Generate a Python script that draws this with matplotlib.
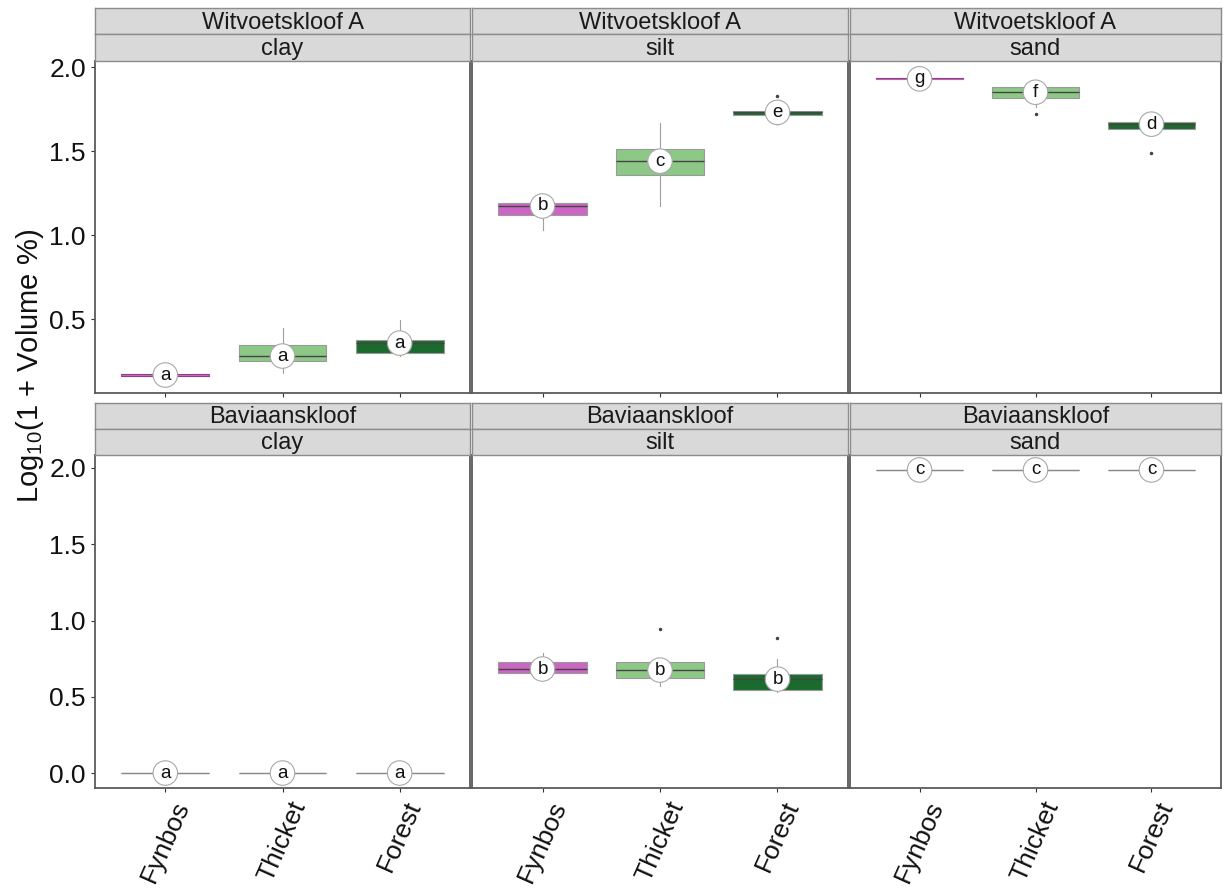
import matplotlib
matplotlib.use("Agg")
import matplotlib.pyplot as plt

plt.rcParams['font.family'] = ['Liberation Sans', 'DejaVu Sans']

sites = ["Witvoetskloof A", "Baviaanskloof"]
fractions = ["clay", "silt", "sand"]
vegetation = ["Fynbos", "Thicket", "Forest"]
veg_colors = ["#CC66C4", "#8DC887", "#1B6B2E"]
veg_edges = ["#8a3f86", "#8a9a88", "#7f8f80"]

# Box statistics per site -> fraction -> vegetation:
# (whisker low, q1, median, q3, whisker high, outliers)
witv_clay = [(0.162, 0.162, 0.167, 0.173, 0.173, []),
             (0.18, 0.25, 0.28, 0.345, 0.446, []),
             (0.28, 0.30, 0.357, 0.375, 0.494, [])]
witv_silt = [(1.03, 1.119, 1.173, 1.19, 1.20, []),
             (1.173, 1.357, 1.44, 1.512, 1.667, []),
             (1.70, 1.714, 1.73, 1.738, 1.75, [1.827, 1.665])]
witv_sand = [(1.927, 1.927, 1.93, 1.933, 1.933, []),
             (1.76, 1.815, 1.85, 1.88, 1.89, [1.72]),
             (1.62, 1.631, 1.66, 1.673, 1.69, [1.49])]
bav_clay = [(0.0, 0.0, 0.0, 0.0, 0.0, []),
            (0.0, 0.0, 0.0, 0.0, 0.0, []),
            (0.0, 0.0, 0.0, 0.0, 0.0, [])]
bav_silt = [(0.64, 0.656, 0.682, 0.728, 0.79, []),
            (0.57, 0.623, 0.675, 0.728, 0.74, [0.944]),
            (0.53, 0.544, 0.616, 0.649, 0.748, [0.885])]
bav_sand = [(1.987, 1.987, 1.987, 1.987, 1.987, []),
            (1.987, 1.987, 1.987, 1.987, 1.987, []),
            (1.987, 1.987, 1.987, 1.987, 1.987, [])]

letters = {
    (0, 0): ["a", "a", "a"], (0, 1): ["b", "c", "e"], (0, 2): ["g", "f", "d"],
    (1, 0): ["a", "a", "a"], (1, 1): ["b", "b", "b"], (1, 2): ["c", "c", "c"],
}
data = {(0, 0): witv_clay, (0, 1): witv_silt, (0, 2): witv_sand,
        (1, 0): bav_clay, (1, 1): bav_silt, (1, 2): bav_sand}

row_ylim = [(0.06, 2.036), (-0.098, 2.085)]
row_ticks = [[0.5, 1.0, 1.5, 2.0], [0.0, 0.5, 1.0, 1.5, 2.0]]

W, H = 1223, 888
fig = plt.figure(figsize=(W / 100, H / 100), dpi=100)

col_x = [(95, 470), (472, 848), (850, 1221)]
row_panel = [(61, 393), (455, 788)]
row_strip = [(8, 61), (403, 455)]

def frac_rect(x0, x1, y0, y1):
    return [x0 / W, 1 - y1 / H, (x1 - x0) / W, (y1 - y0) / H]

border = "#5a5a5a"
for r in range(2):
    for c in range(3):
        x0, x1 = col_x[c]
        y0, y1 = row_panel[r]
        ax = fig.add_axes(frac_rect(x0, x1, y0, y1))
        stats = []
        for (lo, q1, med, q3, hi, fl) in data[(r, c)]:
            stats.append(dict(whislo=lo, q1=q1, med=med, q3=q3, whishi=hi, fliers=fl))
        zero_height = all(s["q1"] == s["q3"] for s in stats)
        bp = ax.bxp(stats, positions=[1, 2, 3], widths=0.75, patch_artist=True,
                    showcaps=False,
                    boxprops=dict(linewidth=0.8, edgecolor="#9a9a9a"),
                    whiskerprops=dict(linewidth=0.8, color="#a0a0a0"),
                    medianprops=dict(linewidth=1.0, color="#444444"),
                    flierprops=dict(marker="o", markersize=1.5,
                                    markerfacecolor="#444444",
                                    markeredgecolor="#444444"))
        for i, patch in enumerate(bp["boxes"]):
            s = stats[i]
            if zero_height:
                patch.set_facecolor("none")
                patch.set_edgecolor("#8a8a8a")
                bp["medians"][i].set_color("#8a8a8a")
            else:
                patch.set_facecolor(veg_colors[i])
                if s["q3"] - s["q1"] < 0.015:
                    # very narrow boxes: keep the fill visible
                    patch.set_edgecolor(veg_edges[i])
                    bp["medians"][i].set_color(veg_colors[i])
                    bp["medians"][i].set_linewidth(0.6)
        for i, (lo, q1, med, q3, hi, fl) in enumerate(data[(r, c)]):
            ax.text(i + 1, med, letters[(r, c)][i], ha="center", va="center",
                    fontsize=13.5, color="#111111", zorder=6,
                    bbox=dict(boxstyle="circle,pad=0.2", fc="white",
                              ec="#a8a8a8", lw=0.8))
        ax.set_xlim(0.4, 3.6)
        ax.set_ylim(*row_ylim[r])
        ax.set_yticks(row_ticks[r])
        ax.set_xticks([1, 2, 3])
        if c == 0:
            ax.set_yticklabels([f"{t:.1f}" for t in row_ticks[r]], fontsize=19)
        else:
            ax.set_yticklabels([])
        if r == 1:
            ax.set_xticklabels(vegetation, rotation=66, fontsize=19,
                               ha="center", va="top")
        else:
            ax.set_xticklabels([])
        ax.tick_params(axis="both", colors="#333333", labelcolor="#111111",
                       length=3, width=0.8)
        if c != 0:
            ax.tick_params(axis="y", length=0)
        for sp in ax.spines.values():
            sp.set_color(border)
            sp.set_linewidth(1.3)

        # two-level strip above each panel
        sy0, sy1 = row_strip[r]
        mid = (sy0 + sy1) / 2
        for a, b, label in [(sy0, mid, sites[r]), (mid, sy1, fractions[c])]:
            sax = fig.add_axes(frac_rect(x0, x1, a, b))
            sax.set_xticks([])
            sax.set_yticks([])
            sax.set_facecolor("#d9d9d9")
            for sp in sax.spines.values():
                sp.set_color("#8c8c8c")
                sp.set_linewidth(1.0)
            sax.text(0.5, 0.45, label, ha="center", va="center", fontsize=17,
                     color="#1a1a1a", transform=sax.transAxes)

fig.text(30 / W, 1 - 366 / H, r"Log$_{\mathregular{10}}$(1 + Volume %)",
         rotation=90, ha="center", va="center", fontsize=21, color="#111111")

fig.savefig("out.png", dpi=100, facecolor="white")
